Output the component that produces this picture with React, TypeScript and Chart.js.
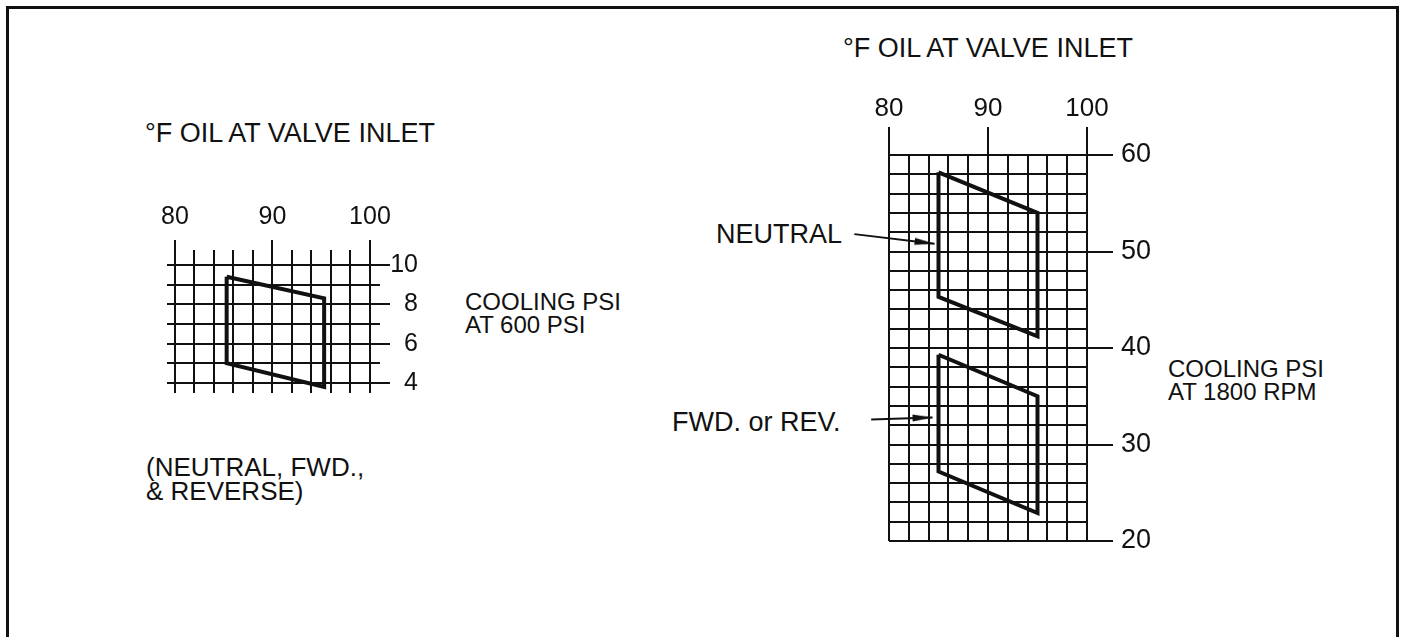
import React, { useEffect, useRef } from 'react';
import { Chart, registerables } from 'chart.js';

Chart.register(...registerables);

// ---------- Left chart (600 PSI) ----------
const LEFT_X_GRID = [80, 82, 84, 86, 88, 90, 92, 94, 96, 98, 100];
const LEFT_X_LABELS = [80, 90, 100];
const LEFT_Y_GRID = [4, 5, 6, 7, 8, 9, 10];
const LEFT_Y_LABELS = [4, 6, 8, 10];
const LEFT_BAND_X = [85.3, 95.3, 95.3, 85.3, 85.3];
const LEFT_BAND_Y = [9.4, 8.3, 3.8, 5.0, 9.4];

// ---------- Right chart (1800 RPM) ----------
const RIGHT_X_GRID = [80, 82, 84, 86, 88, 90, 92, 94, 96, 98, 100];
const RIGHT_X_LABELS = [80, 90, 100];
const RIGHT_Y_GRID = [20, 22, 24, 26, 28, 30, 32, 34, 36, 38, 40, 42, 44, 46, 48, 50, 52, 54, 56, 58, 60];
const RIGHT_Y_LABELS = [20, 30, 40, 50, 60];
const NEUTRAL_X = [85, 95, 95, 85, 85];
const NEUTRAL_Y = [58.2, 54.0, 41.2, 45.3, 58.2];
const FWDREV_X = [85, 95, 95, 85, 85];
const FWDREV_Y = [39.3, 35.0, 22.9, 27.2, 39.3];
const NEUTRAL_ARROW_X = [76.5, 84.6];
const NEUTRAL_ARROW_Y = [51.8, 50.8];
const FWDREV_ARROW_X = [78.2, 84.4];
const FWDREV_ARROW_Y = [32.6, 32.8];

const INK = '#111';
const FONT = '"Liberation Sans", Arial, Helvetica, sans-serif';

const pts = (xs: number[], ys: number[]) => xs.map((x, i) => ({ x, y: ys[i] }));

function arrowHead(): HTMLCanvasElement {
  const c = document.createElement('canvas');
  c.width = 44;
  c.height = 12;
  const g = c.getContext('2d')!;
  g.fillStyle = INK;
  g.beginPath();
  g.moveTo(2, 2.5);
  g.lineTo(22, 6);
  g.lineTo(2, 9.5);
  g.closePath();
  g.fill();
  return c;
}

interface AxisSpec {
  xMin: number; xMax: number; yMin: number; yMax: number;
  xGrid: number[]; xLabels: number[]; yGrid: number[]; yLabels: number[];
  xTickLen: number; yTickLen: number; xPad: number; yPad: number;
  xAxisH: number; yAxisW: number; xFont: number; yFont: number; yCross: 'near' | 'far';
  padding: { left: number; right: number; top: number; bottom: number };
}

function buildConfig(a: AxisSpec, datasets: any[]): any {
  return {
    type: 'scatter',
    data: { datasets },
    options: {
      responsive: false,
      animation: false,
      devicePixelRatio: 1,
      layout: { padding: a.padding },
      plugins: { legend: { display: false }, tooltip: { enabled: false } },
      elements: { line: { tension: 0 } },
      scales: {
        x: {
          type: 'linear',
          position: 'top',
          min: a.xMin,
          max: a.xMax,
          afterBuildTicks: (s: any) => { s.ticks = a.xGrid.map((v) => ({ value: v })); },
          afterFit: (s: any) => { s.height = a.xAxisH; s.paddingLeft = 0; s.paddingRight = 0; },
          border: { display: false },
          grid: {
            color: INK,
            lineWidth: 2,
            drawTicks: true,
            tickLength: a.xTickLen,
            tickWidth: 2,
            tickColor: (ctx: any) => (a.xLabels.includes(ctx.tick?.value) ? INK : 'rgba(0,0,0,0)'),
          },
          ticks: {
            autoSkip: false,
            maxRotation: 0,
            minRotation: 0,
            padding: a.xPad,
            color: INK,
            font: { family: FONT, size: a.xFont },
            callback: (v: any) => (a.xLabels.includes(Number(v)) ? String(v) : ''),
          },
        },
        y: {
          type: 'linear',
          position: 'right',
          min: a.yMin,
          max: a.yMax,
          afterBuildTicks: (s: any) => { s.ticks = a.yGrid.map((v) => ({ value: v })); },
          afterFit: (s: any) => { s.width = a.yAxisW; s.paddingTop = 0; s.paddingBottom = 0; },
          border: { display: false },
          grid: {
            color: INK,
            lineWidth: 2,
            drawTicks: true,
            tickLength: a.yTickLen,
            tickWidth: 2,
            tickColor: (ctx: any) => (a.yLabels.includes(ctx.tick?.value) ? INK : 'rgba(0,0,0,0)'),
          },
          ticks: {
            autoSkip: false,
            padding: a.yPad,
            crossAlign: a.yCross,
            color: INK,
            font: { family: FONT, size: a.yFont },
            callback: (v: any) => (a.yLabels.includes(Number(v)) ? String(v) : ''),
          },
        },
      },
    },
  };
}

const outline = (xs: number[], ys: number[]) => ({
  data: pts(xs, ys),
  showLine: true,
  borderColor: INK,
  borderWidth: 4,
  borderJoinStyle: 'miter',
  pointRadius: 0,
  fill: false,
});

const arrow = (xs: number[], ys: number[], head: HTMLCanvasElement, rot: number) => ({
  data: pts(xs, ys),
  showLine: true,
  borderColor: INK,
  borderWidth: 2,
  pointRadius: [0, 10],
  pointStyle: ['circle', head],
  pointRotation: [0, rot],
  pointBackgroundColor: INK,
  pointBorderWidth: 0,
  clip: false,
  fill: false,
});

const textStyle = (left: number, cy: number, fs: number, extra: any = {}): React.CSSProperties => ({
  position: 'absolute',
  left,
  top: cy - fs * 0.49,
  fontSize: fs,
  lineHeight: `${fs}px`,
  whiteSpace: 'nowrap',
  ...extra,
});

export default function App() {
  const leftRef = useRef<HTMLCanvasElement>(null);
  const rightRef = useRef<HTMLCanvasElement>(null);

  useEffect(() => {
    const head = arrowHead();
    const leftCfg = buildConfig(
      {
        xMin: 79.18, xMax: 101.03, yMin: 3.49, yMax: 10.76,
        xGrid: LEFT_X_GRID, xLabels: LEFT_X_LABELS, yGrid: LEFT_Y_GRID, yLabels: LEFT_Y_LABELS,
        xTickLen: 10, yTickLen: 10, xPad: 8, yPad: 3,
        xAxisH: 60, yAxisW: 38, xFont: 25, yFont: 25, yCross: 'far',
        padding: { left: 20, right: 0, top: 0, bottom: 15 },
      },
      [outline(LEFT_BAND_X, LEFT_BAND_Y)]
    );
    const rightCfg = buildConfig(
      {
        xMin: 80, xMax: 100, yMin: 20, yMax: 60,
        xGrid: RIGHT_X_GRID, xLabels: RIGHT_X_LABELS, yGrid: RIGHT_Y_GRID, yLabels: RIGHT_Y_LABELS,
        xTickLen: 28, yTickLen: 26, xPad: 3, yPad: 8,
        xAxisH: 75, yAxisW: 80, xFont: 26, yFont: 27, yCross: 'near',
        padding: { left: 40, right: 0, top: 0, bottom: 15 },
      },
      [
        outline(NEUTRAL_X, NEUTRAL_Y),
        outline(FWDREV_X, FWDREV_Y),
        arrow(NEUTRAL_ARROW_X, NEUTRAL_ARROW_Y, head, 7),
        arrow(FWDREV_ARROW_X, FWDREV_ARROW_Y, head, -1.5),
      ]
    );
    const c1 = new Chart(leftRef.current!, leftCfg);
    const c2 = new Chart(rightRef.current!, rightCfg);
    return () => {
      c1.destroy();
      c2.destroy();
    };
  }, []);

  return (
    <div
      style={{
        position: 'absolute',
        left: 0,
        top: 0,
        width: 1403,
        height: 637,
        overflow: 'hidden',
        background: '#fff',
        color: INK,
        fontFamily: FONT,
      }}
    >
      <div
        style={{
          position: 'absolute',
          left: 6,
          top: 6,
          width: 1393,
          height: 720,
          border: `3px solid ${INK}`,
          boxSizing: 'border-box',
        }}
      />
      <canvas ref={leftRef} width={271} height={218} style={{ position: 'absolute', left: 147, top: 190 }} />
      <canvas ref={rightRef} width={318} height={476} style={{ position: 'absolute', left: 849, top: 80 }} />

      <div style={textStyle(145, 133, 27)}>°F OIL AT VALVE INLET</div>
      <div style={textStyle(843, 48, 27)}>°F OIL AT VALVE INLET</div>

      <div style={textStyle(465, 302, 24)}>COOLING PSI</div>
      <div style={textStyle(465, 325, 24)}>AT 600 PSI</div>

      <div style={textStyle(146, 467, 26)}>(NEUTRAL, FWD.,</div>
      <div style={textStyle(146, 491, 26)}>&amp; REVERSE)</div>

      <div style={textStyle(0, 234, 27, { left: undefined, right: 1403 - 842 })}>NEUTRAL</div>
      <div style={textStyle(672, 422, 27)}>FWD. or REV.</div>

      <div style={textStyle(1168, 369, 24)}>COOLING PSI</div>
      <div style={textStyle(1168, 392, 24)}>AT 1800 RPM</div>
    </div>
  );
}
